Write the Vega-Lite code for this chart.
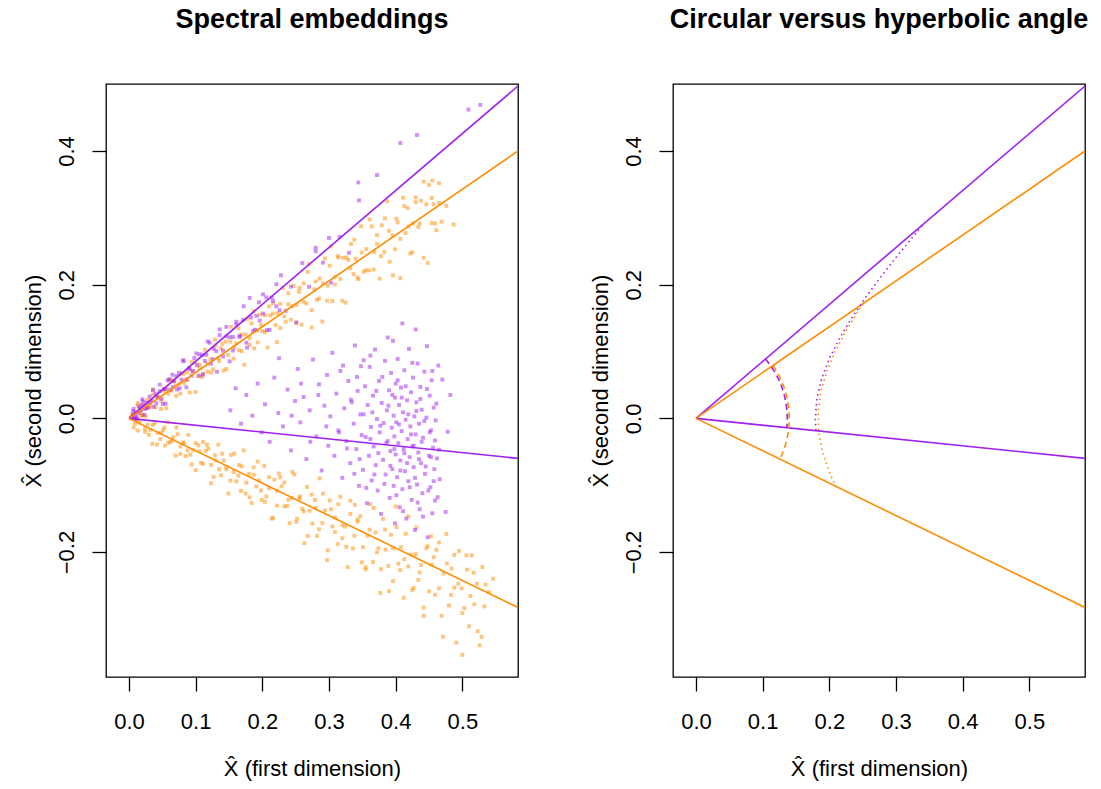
{
"$schema":"https://vega.github.io/schema/vega-lite/v6.json",
"background":"white",
"padding":{"left":21,"top":5,"right":5,"bottom":5},
"config":{
 "view":{"stroke":"black","strokeWidth":1.3},
 "font":"Liberation Sans",
 "axis":{"grid":false,"domain":false,"tickColor":"black","tickWidth":1.3,"tickSize":14,"labelFont":"Liberation Sans","labelFontSize":22,"labelColor":"black","labelFlush":false,"labelOverlap":false,"titleFont":"Liberation Sans","titleFontSize":22,"titleFontWeight":"normal","titleColor":"black"},
 "title":{"font":"Liberation Sans","fontSize":27,"fontWeight":"bold","anchor":"middle","frame":"group","baseline":"alphabetic","offset":50,"color":"black"}
},
"datasets":{
"O":[
{"x":0.005,"y":0.0059},{"x":0.009,"y":-0.0007},{"x":0.013,"y":0.0195},{"x":0.017,"y":0.0107},{"x":0.021,"y":0.0200},{"x":0.025,"y":0.0027},{"x":0.028,"y":0.0280},{"x":0.032,"y":0.0179},{"x":0.036,"y":0.0432},{"x":0.040,"y":0.0168},
{"x":0.044,"y":0.0312},{"x":0.048,"y":0.0262},{"x":0.052,"y":0.0413},{"x":0.056,"y":0.0152},{"x":0.060,"y":0.0578},{"x":0.064,"y":0.0414},{"x":0.067,"y":0.0558},{"x":0.071,"y":0.0335},{"x":0.075,"y":0.0514},{"x":0.079,"y":0.0672},
{"x":0.083,"y":0.0529},{"x":0.087,"y":0.0692},{"x":0.091,"y":0.0387},{"x":0.095,"y":0.0708},{"x":0.099,"y":0.0836},{"x":0.103,"y":0.0632},{"x":0.106,"y":0.0756},{"x":0.110,"y":0.0617},{"x":0.114,"y":0.1027},{"x":0.118,"y":0.0698},
{"x":0.122,"y":0.0884},{"x":0.126,"y":0.0733},{"x":0.130,"y":0.1089},{"x":0.134,"y":0.0901},{"x":0.138,"y":0.1047},{"x":0.142,"y":0.0715},{"x":0.145,"y":0.1150},{"x":0.149,"y":0.0950},{"x":0.153,"y":0.1370},{"x":0.157,"y":0.0893},
{"x":0.161,"y":0.1122},{"x":0.165,"y":0.1018},{"x":0.169,"y":0.1253},{"x":0.173,"y":0.0801},{"x":0.177,"y":0.1485},{"x":0.181,"y":0.1200},{"x":0.184,"y":0.1420},{"x":0.188,"y":0.1046},{"x":0.192,"y":0.1315},{"x":0.196,"y":0.1550},
{"x":0.200,"y":0.1307},{"x":0.204,"y":0.1546},{"x":0.208,"y":0.1059},{"x":0.212,"y":0.1539},{"x":0.216,"y":0.1722},{"x":0.220,"y":0.1395},{"x":0.223,"y":0.1573},{"x":0.227,"y":0.1350},{"x":0.231,"y":0.1950},{"x":0.235,"y":0.1447},
{"x":0.239,"y":0.1708},{"x":0.243,"y":0.1475},{"x":0.247,"y":0.1981},{"x":0.251,"y":0.1695},{"x":0.255,"y":0.1895},{"x":0.259,"y":0.1402},{"x":0.262,"y":0.2020},{"x":0.266,"y":0.1721},{"x":0.270,"y":0.2311},{"x":0.274,"y":0.1619},
{"x":0.278,"y":0.1930},{"x":0.282,"y":0.1774},{"x":0.286,"y":0.2092},{"x":0.290,"y":0.1449},{"x":0.294,"y":0.2393},{"x":0.298,"y":0.1986},{"x":0.301,"y":0.2283},{"x":0.305,"y":0.1755},{"x":0.309,"y":0.2117},{"x":0.313,"y":0.2427},
{"x":0.317,"y":0.2085},{"x":0.321,"y":0.2401},{"x":0.325,"y":0.1731},{"x":0.329,"y":0.2372},{"x":0.333,"y":0.2607},{"x":0.337,"y":0.2158},{"x":0.340,"y":0.2389},{"x":0.344,"y":0.2082},{"x":0.348,"y":0.2874},{"x":0.352,"y":0.2195},
{"x":0.356,"y":0.2532},{"x":0.360,"y":0.2215},{"x":0.364,"y":0.2873},{"x":0.368,"y":0.2489},{"x":0.372,"y":0.2741},{"x":0.376,"y":0.2090},{"x":0.379,"y":0.2889},{"x":0.383,"y":0.2492},{"x":0.387,"y":0.3249},{"x":0.391,"y":0.2344},
{"x":0.395,"y":0.2740},{"x":0.399,"y":0.2530},{"x":0.403,"y":0.2932},{"x":0.407,"y":0.2098},{"x":0.411,"y":0.3301},{"x":0.415,"y":0.2773},{"x":0.418,"y":0.3145},{"x":0.422,"y":0.2466},{"x":0.426,"y":0.2918},{"x":0.430,"y":0.3306},
{"x":0.434,"y":0.2864},{"x":0.438,"y":0.3256},{"x":0.442,"y":0.2404},{"x":0.446,"y":0.3203},{"x":0.450,"y":0.3493},{"x":0.454,"y":0.2922},{"x":0.457,"y":0.3205},{"x":0.461,"y":0.2816},{"x":0.465,"y":0.3520},{"x":0.469,"y":0.2943},
{"x":0.487,"y":0.290},{"x":0.476,"y":0.318},{"x":0.455,"y":0.356},
{"x":0.007,"y":-0.0012},{"x":0.013,"y":0.0230},{"x":0.019,"y":0.0047},{"x":0.024,"y":0.0183},{"x":0.030,"y":0.0156},{"x":0.036,"y":0.0360},{"x":0.042,"y":0.0331},{"x":0.048,"y":0.0140},{"x":0.053,"y":0.0443},{"x":0.059,"y":0.0369},
{"x":0.065,"y":0.0567},{"x":0.071,"y":0.0486},{"x":0.077,"y":0.0371},{"x":0.082,"y":0.0668},{"x":0.088,"y":0.0576},{"x":0.094,"y":0.0841},{"x":0.100,"y":0.0395},{"x":0.106,"y":0.0801},{"x":0.111,"y":0.0669},{"x":0.117,"y":0.0817},
{"x":0.123,"y":0.0683},{"x":0.129,"y":0.1179},{"x":0.135,"y":0.0858},{"x":0.140,"y":0.1113},{"x":0.146,"y":0.0738},{"x":0.152,"y":0.1148},{"x":0.158,"y":0.1064},{"x":0.164,"y":0.1347},{"x":0.169,"y":0.1006},{"x":0.175,"y":0.1257},
{"x":0.181,"y":0.1101},{"x":0.187,"y":0.1604},{"x":0.193,"y":0.1137},{"x":0.198,"y":0.1398},{"x":0.204,"y":0.1291},{"x":0.210,"y":0.1678},{"x":0.216,"y":0.1568},{"x":0.222,"y":0.1140},{"x":0.227,"y":0.1715},{"x":0.233,"y":0.1527},
{"x":0.239,"y":0.1872},{"x":0.245,"y":0.1678},{"x":0.251,"y":0.1427},{"x":0.256,"y":0.1951},{"x":0.262,"y":0.1745},{"x":0.268,"y":0.2192},{"x":0.274,"y":0.1361},{"x":0.280,"y":0.2049},{"x":0.285,"y":0.1793},{"x":0.291,"y":0.2020},
{"x":0.297,"y":0.1761},{"x":0.303,"y":0.2575},{"x":0.309,"y":0.2005},{"x":0.314,"y":0.2407},{"x":0.320,"y":0.1760},{"x":0.326,"y":0.2408},{"x":0.332,"y":0.2244},{"x":0.338,"y":0.2675},{"x":0.343,"y":0.2108},{"x":0.349,"y":0.2483},
{"x":0.355,"y":0.2214},{"x":0.361,"y":0.2977},{"x":0.367,"y":0.2227},{"x":0.372,"y":0.2612},{"x":0.378,"y":0.2426},{"x":0.384,"y":0.2993},{"x":0.390,"y":0.2806},{"x":0.396,"y":0.2140},{"x":0.401,"y":0.2986},{"x":0.407,"y":0.2685},
{"x":0.413,"y":0.3177},{"x":0.419,"y":0.2870},{"x":0.425,"y":0.2484},{"x":0.430,"y":0.3234},{"x":0.436,"y":0.2914},{"x":0.442,"y":0.3542},{"x":0.448,"y":0.2327},{"x":0.454,"y":0.3298},{"x":0.459,"y":0.2917},{"x":0.465,"y":0.3223},
{"x":0.005,"y":0.0050},{"x":0.009,"y":-0.0081},{"x":0.013,"y":-0.0183},{"x":0.016,"y":-0.0064},{"x":0.020,"y":0.0050},{"x":0.024,"y":-0.0200},{"x":0.028,"y":-0.0093},{"x":0.032,"y":-0.0173},{"x":0.035,"y":-0.0380},{"x":0.039,"y":-0.0068},
{"x":0.043,"y":-0.0219},{"x":0.047,"y":-0.0309},{"x":0.051,"y":-0.0177},{"x":0.054,"y":-0.0408},{"x":0.058,"y":-0.0060},{"x":0.062,"y":-0.0354},{"x":0.066,"y":-0.0285},{"x":0.070,"y":-0.0557},{"x":0.073,"y":-0.0237},{"x":0.077,"y":-0.0421},
{"x":0.081,"y":-0.0371},{"x":0.085,"y":-0.0564},{"x":0.089,"y":-0.0248},{"x":0.092,"y":-0.0544},{"x":0.096,"y":-0.0475},{"x":0.100,"y":-0.0774},{"x":0.104,"y":-0.0404},{"x":0.108,"y":-0.0664},{"x":0.111,"y":-0.0354},{"x":0.115,"y":-0.0487},
{"x":0.119,"y":-0.0455},{"x":0.123,"y":-0.0696},{"x":0.127,"y":-0.0876},{"x":0.130,"y":-0.0627},{"x":0.134,"y":-0.0393},{"x":0.138,"y":-0.0851},{"x":0.142,"y":-0.0631},{"x":0.146,"y":-0.0764},{"x":0.149,"y":-0.1125},{"x":0.153,"y":-0.0546},
{"x":0.157,"y":-0.0801},{"x":0.161,"y":-0.0942},{"x":0.165,"y":-0.0699},{"x":0.168,"y":-0.1084},{"x":0.172,"y":-0.0480},{"x":0.176,"y":-0.0962},{"x":0.180,"y":-0.0832},{"x":0.184,"y":-0.1265},{"x":0.187,"y":-0.0734},{"x":0.191,"y":-0.1019},
{"x":0.195,"y":-0.0927},{"x":0.199,"y":-0.1221},{"x":0.203,"y":-0.0710},{"x":0.206,"y":-0.1168},{"x":0.210,"y":-0.1047},{"x":0.214,"y":-0.1501},{"x":0.218,"y":-0.0917},{"x":0.222,"y":-0.1305},{"x":0.225,"y":-0.0824},{"x":0.229,"y":-0.1017},
{"x":0.233,"y":-0.0959},{"x":0.237,"y":-0.1312},{"x":0.241,"y":-0.1568},{"x":0.244,"y":-0.1191},{"x":0.248,"y":-0.0839},{"x":0.252,"y":-0.1500},{"x":0.256,"y":-0.1170},{"x":0.260,"y":-0.1354},{"x":0.263,"y":-0.1867},{"x":0.267,"y":-0.1026},
{"x":0.271,"y":-0.1382},{"x":0.275,"y":-0.1575},{"x":0.279,"y":-0.1221},{"x":0.282,"y":-0.1759},{"x":0.286,"y":-0.0899},{"x":0.290,"y":-0.1568},{"x":0.294,"y":-0.1379},{"x":0.298,"y":-0.1976},{"x":0.301,"y":-0.1229},{"x":0.305,"y":-0.1618},
{"x":0.309,"y":-0.1482},{"x":0.313,"y":-0.1880},{"x":0.317,"y":-0.1172},{"x":0.320,"y":-0.1792},{"x":0.324,"y":-0.1620},{"x":0.328,"y":-0.2227},{"x":0.332,"y":-0.1430},{"x":0.336,"y":-0.1946},{"x":0.339,"y":-0.1295},{"x":0.343,"y":-0.1547},
{"x":0.347,"y":-0.1464},{"x":0.351,"y":-0.1927},{"x":0.355,"y":-0.2261},{"x":0.358,"y":-0.1756},{"x":0.362,"y":-0.1283},{"x":0.366,"y":-0.2151},{"x":0.370,"y":-0.1708},{"x":0.374,"y":-0.1943},{"x":0.377,"y":-0.2613},{"x":0.381,"y":-0.1504},
{"x":0.385,"y":-0.1964},{"x":0.389,"y":-0.2207},{"x":0.393,"y":-0.1742},{"x":0.396,"y":-0.2435},{"x":0.400,"y":-0.1318},{"x":0.404,"y":-0.2175},{"x":0.408,"y":-0.1927},{"x":0.412,"y":-0.2685},{"x":0.415,"y":-0.1726},{"x":0.419,"y":-0.2216},
{"x":0.423,"y":-0.2038},{"x":0.427,"y":-0.2538},{"x":0.431,"y":-0.1634},{"x":0.434,"y":-0.2416},{"x":0.438,"y":-0.2193},{"x":0.442,"y":-0.2954},{"x":0.446,"y":-0.1943},{"x":0.450,"y":-0.2588},{"x":0.453,"y":-0.1764},{"x":0.457,"y":-0.2077},
{"x":0.461,"y":-0.1968},{"x":0.465,"y":-0.2544},{"x":0.469,"y":-0.2954},{"x":0.472,"y":-0.2320},{"x":0.476,"y":-0.1729},{"x":0.480,"y":-0.2800},{"x":0.484,"y":-0.2247},{"x":0.488,"y":-0.2534},{"x":0.491,"y":-0.3355},{"x":0.495,"y":-0.1984},
{"x":0.499,"y":-0.2545},{"x":0.503,"y":-0.2839},{"x":0.507,"y":-0.2264},{"x":0.510,"y":-0.3110},{"x":0.514,"y":-0.2050},{"x":0.518,"y":-0.2783},{"x":0.522,"y":-0.2473},{"x":0.526,"y":-0.3395},{"x":0.530,"y":-0.2225},{"x":0.533,"y":-0.2814},
{"x":0.500,"y":-0.354},{"x":0.540,"y":-0.260},{"x":0.546,"y":-0.240},
{"x":0.007,"y":-0.0138},{"x":0.013,"y":-0.0021},{"x":0.019,"y":0.0044},{"x":0.024,"y":-0.0151},{"x":0.030,"y":-0.0246},{"x":0.036,"y":-0.0098},{"x":0.042,"y":-0.0393},{"x":0.048,"y":-0.0222},{"x":0.053,"y":-0.0138},{"x":0.059,"y":-0.0363},
{"x":0.065,"y":-0.0332},{"x":0.071,"y":-0.0136},{"x":0.077,"y":-0.0531},{"x":0.082,"y":-0.0361},{"x":0.088,"y":-0.0478},{"x":0.094,"y":-0.0690},{"x":0.100,"y":-0.0371},{"x":0.106,"y":-0.0493},{"x":0.111,"y":-0.0680},{"x":0.117,"y":-0.0395},
{"x":0.123,"y":-0.0971},{"x":0.129,"y":-0.0552},{"x":0.135,"y":-0.0761},{"x":0.140,"y":-0.0529},{"x":0.146,"y":-0.0726},{"x":0.152,"y":-0.0930},{"x":0.158,"y":-0.0527},{"x":0.164,"y":-0.0856},{"x":0.169,"y":-0.0717},{"x":0.175,"y":-0.1125},
{"x":0.181,"y":-0.1182},{"x":0.187,"y":-0.0844},{"x":0.193,"y":-0.0647},{"x":0.198,"y":-0.1079},{"x":0.204,"y":-0.1250},{"x":0.210,"y":-0.0881},{"x":0.216,"y":-0.1489},{"x":0.222,"y":-0.1083},{"x":0.227,"y":-0.0883},{"x":0.233,"y":-0.1316},
{"x":0.239,"y":-0.1219},{"x":0.245,"y":-0.0801},{"x":0.251,"y":-0.1548},{"x":0.256,"y":-0.1197},{"x":0.262,"y":-0.1391},{"x":0.268,"y":-0.1760},{"x":0.274,"y":-0.1140},{"x":0.280,"y":-0.1341},{"x":0.285,"y":-0.1660},{"x":0.291,"y":-0.1126},
{"x":0.297,"y":-0.2121},{"x":0.303,"y":-0.1361},{"x":0.309,"y":-0.1701},{"x":0.314,"y":-0.1285},{"x":0.320,"y":-0.1600},{"x":0.326,"y":-0.1923},{"x":0.332,"y":-0.1232},{"x":0.338,"y":-0.1757},{"x":0.343,"y":-0.1513},{"x":0.349,"y":-0.2156},
{"x":0.355,"y":-0.2226},{"x":0.361,"y":-0.1666},{"x":0.367,"y":-0.1340},{"x":0.372,"y":-0.2005},{"x":0.378,"y":-0.2256},{"x":0.384,"y":-0.1664},{"x":0.390,"y":-0.2586},{"x":0.396,"y":-0.1945},{"x":0.401,"y":-0.1626},{"x":0.407,"y":-0.2269},
{"x":0.413,"y":-0.2106},{"x":0.419,"y":-0.1467},{"x":0.425,"y":-0.2567},{"x":0.430,"y":-0.2032},{"x":0.436,"y":-0.2305},{"x":0.442,"y":-0.2831},{"x":0.448,"y":-0.1911},{"x":0.454,"y":-0.2189},{"x":0.459,"y":-0.2638},{"x":0.465,"y":-0.1857},
{"x":0.471,"y":-0.3268},{"x":0.477,"y":-0.2170},{"x":0.483,"y":-0.2640},{"x":0.488,"y":-0.2043},{"x":0.494,"y":-0.2474},{"x":0.500,"y":-0.2914},{"x":0.506,"y":-0.2050},{"x":0.512,"y":-0.2657},{"x":0.517,"y":-0.2309},{"x":0.523,"y":-0.3186},
{"x":0.529,"y":-0.3270},{"x":0.535,"y":-0.2488}
],
"P":[
{"x":0.004,"y":-0.0001},{"x":0.007,"y":0.0141},{"x":0.010,"y":0.0092},{"x":0.012,"y":0.0017},{"x":0.015,"y":0.0175},{"x":0.018,"y":0.0118},{"x":0.020,"y":0.0285},{"x":0.023,"y":0.0054},{"x":0.026,"y":0.0235},{"x":0.028,"y":0.0161},
{"x":0.031,"y":0.0327},{"x":0.034,"y":0.0265},{"x":0.037,"y":0.0172},{"x":0.040,"y":0.0367},{"x":0.043,"y":0.0316},{"x":0.046,"y":0.0505},{"x":0.049,"y":0.0293},{"x":0.052,"y":0.0437},{"x":0.055,"y":0.0221},{"x":0.058,"y":0.0569},
{"x":0.062,"y":0.0429},{"x":0.065,"y":0.0653},{"x":0.068,"y":0.0553},{"x":0.072,"y":0.0432},{"x":0.075,"y":0.0681},{"x":0.079,"y":0.0579},{"x":0.082,"y":0.0854},{"x":0.086,"y":0.0465},{"x":0.090,"y":0.0755},{"x":0.094,"y":0.0639},
{"x":0.098,"y":0.0902},{"x":0.102,"y":0.0796},{"x":0.106,"y":0.0638},{"x":0.110,"y":0.0947},{"x":0.114,"y":0.0859},{"x":0.118,"y":0.1151},{"x":0.123,"y":0.0817},{"x":0.127,"y":0.1040},{"x":0.132,"y":0.0698},{"x":0.136,"y":0.1247},
{"x":0.141,"y":0.1014},{"x":0.146,"y":0.1369},{"x":0.151,"y":0.1214},{"x":0.156,"y":0.1014},{"x":0.161,"y":0.1407},{"x":0.166,"y":0.1237},{"x":0.172,"y":0.1678},{"x":0.177,"y":0.1058},{"x":0.183,"y":0.1509},{"x":0.189,"y":0.1326},
{"x":0.195,"y":0.1737},{"x":0.201,"y":0.1568},{"x":0.207,"y":0.1321},{"x":0.214,"y":0.1808},{"x":0.221,"y":0.1677},{"x":0.228,"y":0.2141},{"x":0.235,"y":0.1610},{"x":0.243,"y":0.1971},{"x":0.251,"y":0.1436},{"x":0.260,"y":0.2323},
{"x":0.270,"y":0.1968},{"x":0.280,"y":0.2553},{"x":0.291,"y":0.2329},{"x":0.303,"y":0.2031},{"x":0.316,"y":0.2715},{"x":0.330,"y":0.2477},{"x":0.345,"y":0.3262},
{"x":0.432,"y":0.424},{"x":0.407,"y":0.412},{"x":0.344,"y":0.353},{"x":0.372,"y":0.364},{"x":0.509,"y":0.462},{"x":0.527,"y":0.469},{"x":0.300,"y":0.270},{"x":0.280,"y":0.250},
{"x":0.003,"y":0.001},{"x":0.006,"y":0.004},{"x":0.009,"y":0.003},{"x":0.014,"y":0.008},{"x":0.019,"y":0.020},{"x":0.024,"y":0.014},
{"x":0.006,"y":0.0106},{"x":0.011,"y":-0.0011},{"x":0.016,"y":0.0147},{"x":0.021,"y":0.0256},{"x":0.026,"y":0.0154},{"x":0.031,"y":0.0233},{"x":0.036,"y":0.0423},{"x":0.041,"y":0.0227},{"x":0.046,"y":0.0407},{"x":0.051,"y":0.0216},
{"x":0.056,"y":0.0437},{"x":0.061,"y":0.0585},{"x":0.066,"y":0.0470},{"x":0.071,"y":0.0636},{"x":0.076,"y":0.0448},{"x":0.081,"y":0.0870},{"x":0.086,"y":0.0581},{"x":0.091,"y":0.0737},{"x":0.096,"y":0.0708},{"x":0.101,"y":0.0971},
{"x":0.106,"y":0.0958},{"x":0.111,"y":0.0657},{"x":0.116,"y":0.0951},{"x":0.121,"y":0.1132},{"x":0.126,"y":0.0886},{"x":0.131,"y":0.1006},{"x":0.136,"y":0.1331},{"x":0.141,"y":0.0927},{"x":0.146,"y":0.1228},{"x":0.151,"y":0.0852},
{"x":0.156,"y":0.1217},{"x":0.161,"y":0.1445},{"x":0.166,"y":0.1218},{"x":0.171,"y":0.1472},{"x":0.176,"y":0.1132},{"x":0.181,"y":0.1802},{"x":0.186,"y":0.1305},{"x":0.191,"y":0.1533},{"x":0.196,"y":0.1464},{"x":0.201,"y":0.1855},
{"x":0.206,"y":0.1810},{"x":0.211,"y":0.1325},{"x":0.216,"y":0.1755},{"x":0.221,"y":0.2008},{"x":0.226,"y":0.1618},
{"x":0.152,"y":0.012},{"x":0.168,"y":-0.008},{"x":0.176,"y":0.035},{"x":0.185,"y":0.004},{"x":0.193,"y":0.052},{"x":0.199,"y":-0.021},
{"x":0.204,"y":0.021},{"x":0.211,"y":-0.035},{"x":0.218,"y":0.061},{"x":0.224,"y":0.008},{"x":0.231,"y":-0.012},{"x":0.238,"y":0.043},{"x":0.243,"y":-0.048},{"x":0.249,"y":0.026},
{"x":0.253,"y":0.074},{"x":0.257,"y":-0.006},{"x":0.262,"y":0.032},{"x":0.266,"y":-0.061},{"x":0.271,"y":0.012},{"x":0.276,"y":0.088},{"x":0.281,"y":-0.027},{"x":0.285,"y":0.051},{"x":0.289,"y":-0.078},{"x":0.293,"y":0.019},{"x":0.297,"y":0.065},{"x":0.299,"y":-0.041},
{"x":0.302,"y":0.003},{"x":0.305,"y":0.098},{"x":0.308,"y":-0.056},{"x":0.311,"y":0.037},{"x":0.314,"y":-0.018},{"x":0.317,"y":0.071},{"x":0.320,"y":-0.089},{"x":0.323,"y":0.015},{"x":0.326,"y":-0.034},{"x":0.329,"y":0.056},
{"x":0.332,"y":-0.067},{"x":0.334,"y":0.024},{"x":0.337,"y":-0.008},{"x":0.339,"y":0.109},{"x":0.341,"y":-0.046},{"x":0.343,"y":0.041},{"x":0.345,"y":-0.101},{"x":0.347,"y":0.006},{"x":0.348,"y":0.078},{"x":0.349,"y":-0.025},
{"x":0.351,"y":-0.077},{"x":0.352,"y":0.006},{"x":0.354,"y":0.048},{"x":0.355,"y":-0.028},{"x":0.357,"y":-0.127},{"x":0.358,"y":0.020},{"x":0.360,"y":-0.056},{"x":0.361,"y":0.077},{"x":0.363,"y":-0.013},{"x":0.364,"y":-0.093},
{"x":0.366,"y":0.034},{"x":0.367,"y":-0.042},{"x":0.369,"y":0.103},{"x":0.370,"y":-0.070},{"x":0.372,"y":-0.001},{"x":0.373,"y":-0.108},{"x":0.375,"y":0.056},{"x":0.376,"y":-0.021},{"x":0.378,"y":-0.143},{"x":0.379,"y":0.023},
{"x":0.381,"y":-0.062},{"x":0.382,"y":-0.007},{"x":0.384,"y":0.086},{"x":0.385,"y":-0.084},{"x":0.387,"y":0.012},{"x":0.388,"y":-0.034},{"x":0.390,"y":0.042},{"x":0.391,"y":-0.119},{"x":0.392,"y":-0.049},{"x":0.393,"y":0.068},
{"x":0.394,"y":-0.014},{"x":0.395,"y":-0.076},{"x":0.396,"y":0.116},{"x":0.397,"y":0.004},{"x":0.397,"y":-0.101},{"x":0.398,"y":-0.027},{"x":0.399,"y":0.031},{"x":0.399,"y":-0.157},{"x":0.400,"y":-0.054},{"x":0.400,"y":0.052},
{"x":0.401,"y":-0.006},{"x":0.402,"y":-0.088},{"x":0.403,"y":0.089},{"x":0.404,"y":-0.037},{"x":0.405,"y":0.020},{"x":0.406,"y":-0.133},{"x":0.407,"y":-0.063},{"x":0.408,"y":0.046},{"x":0.409,"y":-0.019},{"x":0.410,"y":-0.106},
{"x":0.411,"y":0.009},{"x":0.412,"y":-0.046},{"x":0.413,"y":0.072},{"x":0.414,"y":-0.079},{"x":0.415,"y":-0.002},{"x":0.416,"y":-0.150},{"x":0.417,"y":0.027},{"x":0.418,"y":-0.031},{"x":0.419,"y":-0.094},{"x":0.420,"y":0.104},
{"x":0.421,"y":-0.058},{"x":0.422,"y":-0.012},{"x":0.423,"y":0.039},{"x":0.424,"y":-0.122},{"x":0.425,"y":-0.042},{"x":0.426,"y":0.061},{"x":0.427,"y":-0.073},{"x":0.428,"y":0.003},{"x":0.429,"y":-0.167},{"x":0.430,"y":-0.024},
{"x":0.431,"y":0.024},{"x":0.432,"y":-0.099},{"x":0.433,"y":0.082},{"x":0.434,"y":-0.051},{"x":0.435,"y":-0.008},{"x":0.436,"y":-0.136},{"x":0.437,"y":0.047},{"x":0.438,"y":-0.067},{"x":0.439,"y":0.013},{"x":0.440,"y":-0.112},
{"x":0.441,"y":-0.029},{"x":0.443,"y":0.070},{"x":0.444,"y":-0.083},{"x":0.446,"y":0.001},{"x":0.448,"y":-0.178},
{"x":0.450,"y":-0.056},{"x":0.451,"y":0.034},{"x":0.452,"y":-0.103},{"x":0.453,"y":-0.018},{"x":0.454,"y":0.057},{"x":0.455,"y":-0.142},{"x":0.456,"y":-0.044},{"x":0.457,"y":0.016},{"x":0.458,"y":-0.076},{"x":0.459,"y":-0.123},
{"x":0.460,"y":-0.003},{"x":0.462,"y":-0.060},{"x":0.464,"y":0.079},{"x":0.466,"y":-0.091},
{"x":0.478,"y":-0.020},{"x":0.482,"y":0.035},{"x":0.475,"y":-0.140},{"x":0.470,"y":0.058},{"x":0.225,"y":0.090},{"x":0.160,"y":0.045},{"x":0.430,"y":0.133},{"x":0.410,"y":0.142},
{"x":0.362,"y":-0.031},{"x":0.365,"y":0.009},{"x":0.368,"y":-0.084},{"x":0.371,"y":0.041},{"x":0.374,"y":-0.052},{"x":0.377,"y":-0.011},{"x":0.380,"y":0.062},{"x":0.383,"y":-0.098},{"x":0.386,"y":-0.037},{"x":0.389,"y":0.019},
{"x":0.392,"y":-0.071},{"x":0.395,"y":0.035},{"x":0.398,"y":-0.046},{"x":0.401,"y":-0.115},{"x":0.403,"y":0.057},{"x":0.405,"y":-0.009},{"x":0.407,"y":-0.078},{"x":0.409,"y":0.031},{"x":0.411,"y":-0.139},{"x":0.413,"y":-0.052},
{"x":0.415,"y":0.048},{"x":0.417,"y":-0.067},{"x":0.419,"y":0.006},{"x":0.421,"y":-0.103},{"x":0.423,"y":-0.024},{"x":0.425,"y":0.083},{"x":0.427,"y":-0.041},{"x":0.429,"y":-0.089},{"x":0.431,"y":0.011},{"x":0.433,"y":-0.126},
{"x":0.435,"y":-0.061},{"x":0.437,"y":0.029},{"x":0.439,"y":-0.035},{"x":0.441,"y":-0.147},{"x":0.443,"y":-0.004},{"x":0.445,"y":-0.072},{"x":0.447,"y":0.044},{"x":0.449,"y":-0.108},{"x":0.451,"y":-0.021},{"x":0.453,"y":-0.058},
{"x":0.455,"y":0.071},{"x":0.457,"y":-0.094},{"x":0.459,"y":-0.033},{"x":0.461,"y":0.022},{"x":0.463,"y":-0.118},{"x":0.465,"y":-0.047},{"x":0.346,"y":-0.061},{"x":0.352,"y":0.087},{"x":0.356,"y":-0.104},{"x":0.342,"y":0.062},
{"x":0.338,"y":-0.083},{"x":0.333,"y":0.028},{"x":0.327,"y":-0.045},{"x":0.321,"y":0.079},{"x":0.315,"y":-0.021},{"x":0.296,"y":-0.012},{"x":0.284,"y":0.035},{"x":0.272,"y":-0.035},{"x":0.258,"y":0.052},{"x":0.244,"y":0.004},
{"x":0.388,"y":0.121},{"x":0.447,"y":0.108},{"x":0.362,"y":0.094}
],
"L":[
{"id":"pu","c":"p","x":0,"y":0},{"id":"pu","c":"p","x":0.5835,"y":0.4973},
{"id":"ou","c":"o","x":0,"y":0},{"id":"ou","c":"o","x":0.5835,"y":0.400},
{"id":"pl","c":"p","x":0,"y":0},{"id":"pl","c":"p","x":0.5835,"y":-0.0599},
{"id":"ol","c":"o","x":0,"y":0},{"id":"ol","c":"o","x":0.5835,"y":-0.283}
],
"A":[
{"id":"cp","c":"p","s":"dash","o":0,"x":0.1043,"y":0.0888},{"id":"cp","c":"p","s":"dash","o":1,"x":0.1122,"y":0.0786},{"id":"cp","c":"p","s":"dash","o":2,"x":0.1186,"y":0.0685},{"id":"cp","c":"p","s":"dash","o":3,"x":0.1242,"y":0.0579},{"id":"cp","c":"p","s":"dash","o":4,"x":0.1287,"y":0.0469},{"id":"cp","c":"p","s":"dash","o":5,"x":0.1323,"y":0.0355},{"id":"cp","c":"p","s":"dash","o":6,"x":0.1349,"y":0.0238},{"id":"cp","c":"p","s":"dash","o":7,"x":0.1365,"y":0.0119},{"id":"cp","c":"p","s":"dash","o":8,"x":0.137,"y":0},{"id":"cp","c":"p","s":"dash","o":9,"x":0.1363,"y":-0.0140},
{"id":"co","c":"o","s":"dash","o":0,"x":0.1155,"y":0.0791},{"id":"co","c":"o","s":"dash","o":1,"x":0.1212,"y":0.0700},{"id":"co","c":"o","s":"dash","o":2,"x":0.1269,"y":0.0592},{"id":"co","c":"o","s":"dash","o":3,"x":0.1316,"y":0.0479},{"id":"co","c":"o","s":"dash","o":4,"x":0.1352,"y":0.0362},{"id":"co","c":"o","s":"dash","o":5,"x":0.1379,"y":0.0243},{"id":"co","c":"o","s":"dash","o":6,"x":0.1395,"y":0.0122},{"id":"co","c":"o","s":"dash","o":7,"x":0.14,"y":0},{"id":"co","c":"o","s":"dash","o":8,"x":0.1395,"y":-0.0122},{"id":"co","c":"o","s":"dash","o":9,"x":0.1379,"y":-0.0243},{"id":"co","c":"o","s":"dash","o":10,"x":0.1352,"y":-0.0362},{"id":"co","c":"o","s":"dash","o":11,"x":0.1316,"y":-0.0479},{"id":"co","c":"o","s":"dash","o":12,"x":0.1260,"y":-0.0611},
{"id":"hp","c":"p","s":"dot","o":0,"x":0.1798,"y":-0.018},{"id":"hp","c":"p","s":"dot","o":1,"x":0.1789,"y":0},{"id":"hp","c":"p","s":"dot","o":2,"x":0.1814,"y":0.03},{"id":"hp","c":"p","s":"dot","o":3,"x":0.1887,"y":0.06},{"id":"hp","c":"p","s":"dot","o":4,"x":0.2002,"y":0.09},{"id":"hp","c":"p","s":"dot","o":5,"x":0.2154,"y":0.12},{"id":"hp","c":"p","s":"dot","o":6,"x":0.2335,"y":0.15},{"id":"hp","c":"p","s":"dot","o":7,"x":0.2538,"y":0.18},{"id":"hp","c":"p","s":"dot","o":8,"x":0.2759,"y":0.21},{"id":"hp","c":"p","s":"dot","o":9,"x":0.2993,"y":0.24},{"id":"hp","c":"p","s":"dot","o":10,"x":0.3239,"y":0.27},{"id":"hp","c":"p","s":"dot","o":11,"x":0.3407,"y":0.29},
{"id":"ho","c":"o","s":"dot","o":0,"x":0.2100,"y":-0.103},{"id":"ho","c":"o","s":"dot","o":1,"x":0.1997,"y":-0.08},{"id":"ho","c":"o","s":"dot","o":2,"x":0.1897,"y":-0.05},{"id":"ho","c":"o","s":"dot","o":3,"x":0.1841,"y":-0.02},{"id":"ho","c":"o","s":"dot","o":4,"x":0.1833,"y":0.01},{"id":"ho","c":"o","s":"dot","o":5,"x":0.1873,"y":0.04},{"id":"ho","c":"o","s":"dot","o":6,"x":0.1960,"y":0.07},{"id":"ho","c":"o","s":"dot","o":7,"x":0.2086,"y":0.10},{"id":"ho","c":"o","s":"dot","o":8,"x":0.2245,"y":0.13},{"id":"ho","c":"o","s":"dot","o":9,"x":0.2431,"y":0.16},{"id":"ho","c":"o","s":"dot","o":10,"x":0.2518,"y":0.173}
]
},
"spacing":155,
"bounds":"flush",
"hconcat":[
{
 "width":412,"height":593,
 "title":{"text":"Spectral embeddings"},
 "encoding":{
  "x":{"field":"x","type":"quantitative","scale":{"domain":[-0.0345,0.5835],"nice":false,"zero":false},
   "axis":{"values":[0,0.1,0.2,0.3,0.4,0.5],"format":".1f","labelBaseline":"alphabetic","labelPadding":37,"title":"X̂ (first dimension)","titleX":206,"titleY":98,"titleBaseline":"alphabetic","titleAlign":"center"}},
  "y":{"field":"y","type":"quantitative","scale":{"domain":[-0.387,0.5003],"nice":false,"zero":false},
   "axis":{"values":[-0.2,0,0.2,0.4],"format":".1f","labelAngle":270,"labelAlign":"center","labelBaseline":"alphabetic","labelPadding":18.7,"title":"X̂ (second dimension)","titleX":-66,"titleY":296.5,"titleAngle":270,"titleAlign":"center","titleBaseline":"alphabetic"}}
 },
 "layer":[
  {"data":{"name":"O"},"mark":{"type":"square","size":15,"opacity":0.5,"color":"#FF8C00","clip":true}},
  {"data":{"name":"P"},"mark":{"type":"square","size":15,"opacity":0.5,"color":"#A020F0","clip":true}},
  {"data":{"name":"L"},"mark":{"type":"line","strokeWidth":1.6,"clip":true},
   "encoding":{"color":{"field":"c","type":"nominal","scale":{"domain":["p","o"],"range":["#A020F0","#FF8C00"]},"legend":null},"detail":{"field":"id"}}}
 ]
},
{
 "width":412,"height":593,
 "title":{"text":"Circular versus hyperbolic angle"},
 "encoding":{
  "x":{"field":"x","type":"quantitative","scale":{"domain":[-0.0345,0.5835],"nice":false,"zero":false},
   "axis":{"values":[0,0.1,0.2,0.3,0.4,0.5],"format":".1f","labelBaseline":"alphabetic","labelPadding":37,"title":"X̂ (first dimension)","titleX":206,"titleY":98,"titleBaseline":"alphabetic","titleAlign":"center"}},
  "y":{"field":"y","type":"quantitative","scale":{"domain":[-0.387,0.5003],"nice":false,"zero":false},
   "axis":{"values":[-0.2,0,0.2,0.4],"format":".1f","labelAngle":270,"labelAlign":"center","labelBaseline":"alphabetic","labelPadding":18.7,"title":"X̂ (second dimension)","titleX":-66,"titleY":296.5,"titleAngle":270,"titleAlign":"center","titleBaseline":"alphabetic"}}
 },
 "layer":[
  {"data":{"name":"L"},"mark":{"type":"line","strokeWidth":1.6,"clip":true},
   "encoding":{"color":{"field":"c","type":"nominal","scale":{"domain":["p","o"],"range":["#A020F0","#FF8C00"]},"legend":null},"detail":{"field":"id"}}},
  {"data":{"name":"A"},"mark":{"type":"line","strokeWidth":1.6,"clip":true},
   "encoding":{"color":{"field":"c","type":"nominal","scale":{"domain":["p","o"],"range":["#A020F0","#FF8C00"]},"legend":null},"detail":{"field":"id"},"order":{"field":"o","type":"quantitative"},
    "strokeDash":{"field":"s","type":"nominal","scale":{"domain":["dash","dot"],"range":[[6,4],[1.5,3.5]]},"legend":null}}}
 ]
}
]
}
